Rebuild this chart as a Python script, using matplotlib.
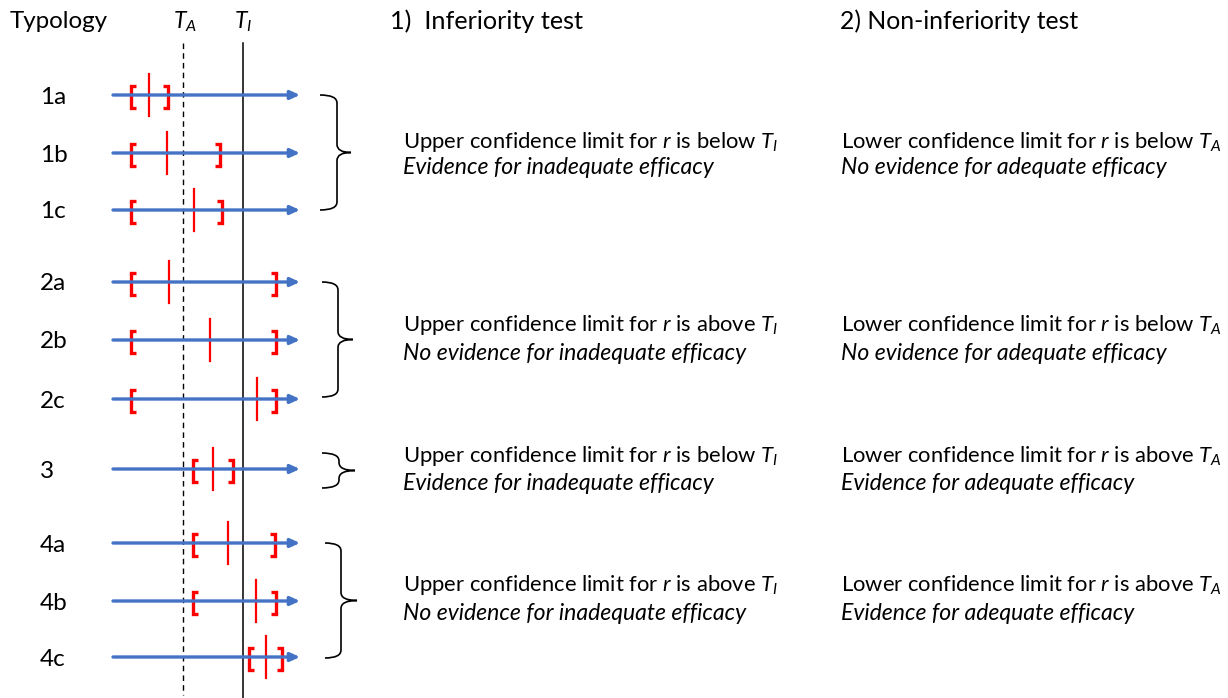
import matplotlib
matplotlib.use("Agg")
import matplotlib.pyplot as plt
from matplotlib.path import Path
from matplotlib.patches import PathPatch

plt.rcParams['font.family'] = ['Lato', 'DejaVu Sans']
plt.rcParams['mathtext.fontset'] = 'custom'
plt.rcParams['mathtext.it'] = 'Lato:italic'
plt.rcParams['mathtext.rm'] = 'Lato'

# ---- data ----
typology = ['1a', '1b', '1c', '2a', '2b', '2c', '3', '4a', '4b', '4c']
lower = [131, 131, 131, 131, 131, 131, 193, 193, 193, 249]
estimate = [149, 167, 194, 169, 210, 257, 213, 228, 256, 266]
upper = [168, 220, 222, 276, 276, 276, 233, 275, 276, 282]
T_A = 183
T_I = 243
scale_start = 113
scale_end = 300

group_rows = [(0, 2), (3, 5), (6, 6), (7, 9)]
inferiority_lines = [
    (r"Upper confidence limit for $r$ is below $T_I$", "Evidence for inadequate efficacy"),
    (r"Upper confidence limit for $r$ is above $T_I$", "No evidence for inadequate efficacy"),
    (r"Upper confidence limit for $r$ is below $T_I$", "Evidence for inadequate efficacy"),
    (r"Upper confidence limit for $r$ is above $T_I$", "No evidence for inadequate efficacy"),
]
noninferiority_lines = [
    (r"Lower confidence limit for $r$ is below $T_A$", "No evidence for adequate efficacy"),
    (r"Lower confidence limit for $r$ is below $T_A$", "No evidence for adequate efficacy"),
    (r"Lower confidence limit for $r$ is above $T_A$", "Evidence for adequate efficacy"),
    (r"Lower confidence limit for $r$ is above $T_A$", "Evidence for adequate efficacy"),
]

# ---- layout ----
row_y = [95, 153, 210, 282, 340, 399, 469, 543, 601, 657]
brace_x = [(320, 337, 351), (322, 338, 353), (322, 339, 355), (325, 341, 357)]
brace_ext = [(95, 210), (282, 397), (453, 488), (543, 658)]
text_y = [(142, 167), (325, 353), (456, 484), (585, 613)]

BLUE = '#4472C4'
RED = '#FF0000'

fig = plt.figure(figsize=(12.28, 6.98), dpi=100)
ax = fig.add_axes([0, 0, 1, 1])
ax.set_xlim(0, 1228)
ax.set_ylim(698, 0)
ax.axis('off')

# threshold lines
ax.plot([T_A, T_A], [43, 695], color='black', lw=1.0, ls=(0, (4, 3)))
ax.plot([T_I, T_I], [43, 698], color='black', lw=1.1)

ax.text(10, 21, 'Typology', fontsize=17.4, va='center', ha='left')
ax.text(T_A + 2, 22, '$T_A$', fontsize=16.5, va='center', ha='center')
ax.text(T_I, 22, '$T_I$', fontsize=16.5, va='center', ha='center')

for lab, y, lo, est, up in zip(typology, row_y, lower, estimate, upper):
    ax.text(40, y + 2, lab, fontsize=17.5, va='center', ha='left')
    ax.annotate('', xy=(scale_end, y), xytext=(scale_start, y),
                arrowprops=dict(arrowstyle='-|>,head_length=0.55,head_width=0.25',
                                color=BLUE, lw=2.4, shrinkA=0, shrinkB=0))
    # lower bracket '['
    ax.plot([lo + 5, lo, lo, lo + 5], [y - 9, y - 9, y + 13, y + 13],
            color=RED, lw=2.4, solid_joinstyle='miter', solid_capstyle='butt')
    # upper bracket ']'
    ax.plot([up - 5, up, up, up - 5], [y - 9, y - 9, y + 13, y + 13],
            color=RED, lw=2.4, solid_joinstyle='miter', solid_capstyle='butt')
    # point estimate
    ax.plot([est, est], [y - 21, y + 21], color=RED, lw=1.6)


def brace(x0, xm, x2, top, bot):
    mid = (top + bot) / 2.0
    r = min(8, (bot - top) / 4.0)
    verts = [(x0, top), (xm, top), (xm, top + r),
             (xm, mid - r), (xm, mid), (x2, mid),
             (xm, mid), (xm, mid + r),
             (xm, bot - r), (xm, bot), (x0, bot)]
    codes = [Path.MOVETO, Path.CURVE3, Path.CURVE3,
             Path.LINETO, Path.CURVE3, Path.CURVE3,
             Path.CURVE3, Path.CURVE3,
             Path.LINETO, Path.CURVE3, Path.CURVE3]
    ax.add_patch(PathPatch(Path(verts, codes), fill=False, lw=1.2, color='black'))


for (x0, xm, x2), (top, bot) in zip(brace_x, brace_ext):
    brace(x0, xm, x2, top, bot)

fs_txt = 15.8
fs_it = 16.6
ax.text(390, 21, '1)  Inferiority test', fontsize=18.2, va='center', ha='left')
ax.text(840, 21, '2) Non-inferiority test', fontsize=17.8, va='center', ha='left')
for (y1, y2), (a1, a2), (b1, b2) in zip(text_y, inferiority_lines, noninferiority_lines):
    ax.text(403, y1, a1, fontsize=fs_txt, va='center', ha='left')
    ax.text(403, y2, a2, fontsize=fs_it, va='center', ha='left', style='italic')
    ax.text(841, y1, b1, fontsize=fs_txt, va='center', ha='left')
    ax.text(841, y2, b2, fontsize=fs_it, va='center', ha='left', style='italic')

fig.savefig('out.png', dpi=100)
